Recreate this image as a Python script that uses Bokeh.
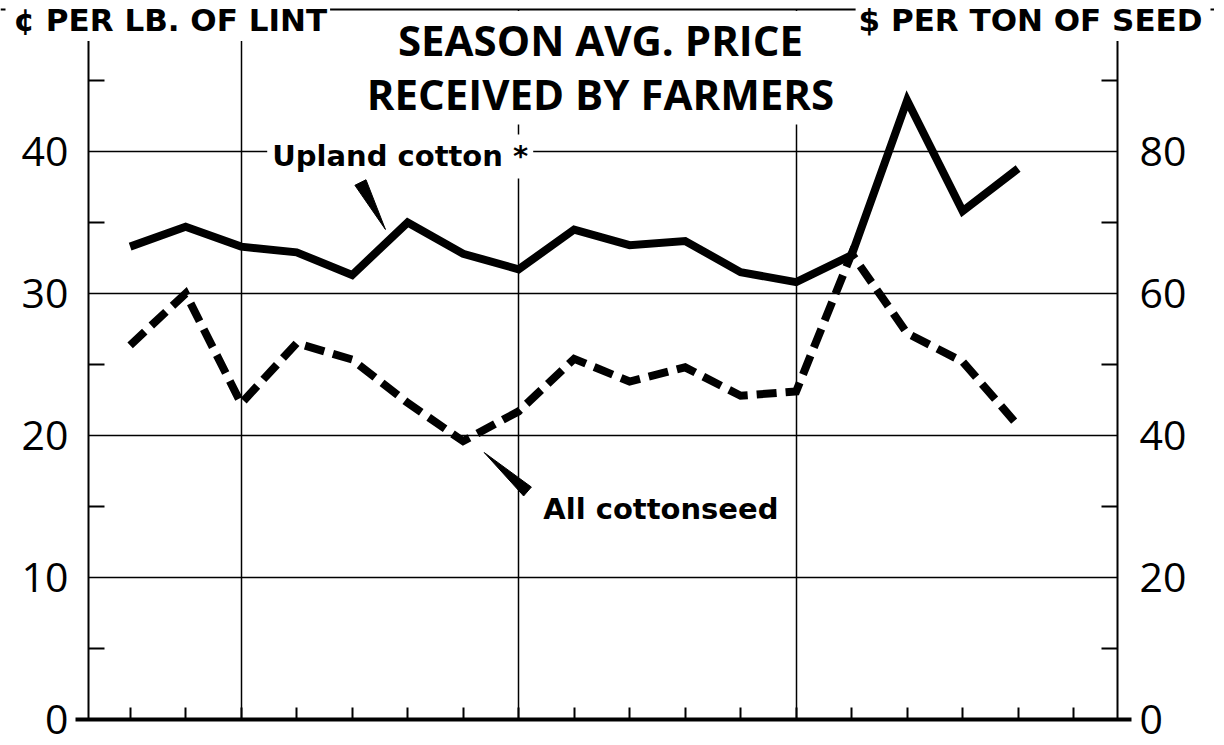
from bokeh.plotting import figure
from bokeh.models import Range1d, LinearAxis, FixedTicker, Label, Span
from bokeh.embed import file_html
from bokeh.resources import INLINE

# ---- data ----
years = list(range(1948, 1965))
upland_cents = [33.3, 34.7, 33.3, 32.9, 31.3, 35.0, 32.8, 31.7, 34.5, 33.4,
                33.7, 31.5, 30.8, 32.7, 43.6, 35.8, 38.8]
seed_dollars = [52.7, 60.0, 44.5, 53.0, 50.7, 44.6, 39.2, 43.4, 50.8, 47.6,
                49.6, 45.6, 46.2, 65.6, 54.4, 50.4, 41.4]

left_ticks = [0, 10, 20, 30, 40]
left_minor = [5, 15, 25, 35, 45]
right_ticks = [0, 20, 40, 60, 80]
right_minor = [10, 30, 50, 70, 90]
year_ticks = list(range(1948, 1966))
grid_years = [1950, 1955, 1960]

title_lines = ["SEASON AVG. PRICE", "RECEIVED BY FARMERS"]
left_title = "¢ PER LB. OF LINT"
right_title = "$ PER TON OF SEED"
upland_label = "Upland cotton *"
seed_label = "All cottonseed"

# ---- chart geometry (data coords) ----
X0, X1 = 1947.25, 1965.79      # where the left / right value axes stand
Y_TOP = 50                     # top rule of the chart (left scale)
PX_X = 55.5                    # pixels per year
PX_Y = 14.2                    # pixels per cent
W, H = 1214, 745
ZERO_PX = 719                  # canvas row of the zero line
LEFT_PX = 88                   # canvas column of the left axis

upland_ptr_x = [1952.05, 1952.25, 1952.60]
upland_ptr_y = [37.62, 38.01, 34.51]
seed_ptr_x = [1954.38, 1955.09, 1955.23]
seed_ptr_y = [18.80, 15.74, 16.37]

NUM_FONT = "Open Sans"
BOLD_FONT = "DejaVu Sans"

xs = X0 - LEFT_PX / PX_X
ys = -(H - ZERO_PX) / PX_Y
p = figure(width=W, height=H, output_backend="svg", toolbar_location=None,
           x_range=Range1d(xs, xs + W / PX_X),
           y_range=Range1d(ys, ys + H / PX_Y),
           min_border=0, min_border_left=0, min_border_right=0,
           min_border_top=0, min_border_bottom=0)
p.outline_line_color = None
p.background_fill_color = "white"
p.border_fill_color = "white"
p.extra_y_ranges = {"seed": Range1d(2 * ys, 2 * (ys + H / PX_Y))}
p.xgrid.visible = False
p.ygrid.visible = False

frame_w = round((X1 - X0) * PX_X)
frame_h = round(Y_TOP * PX_Y)

# left axis; its long major ticks are the horizontal grid lines
ya = p.yaxis[0]
ya.fixed_location = X0
ya.bounds = (0, Y_TOP)
ya.ticker = FixedTicker(ticks=left_ticks, minor_ticks=left_minor)
ya.major_tick_in = frame_w
ya.major_tick_out = 0
ya.major_tick_line_width = 1.5
ya.minor_tick_in = 16
ya.minor_tick_out = 0
ya.minor_tick_line_width = 2
ya.axis_line_width = 2
ya.major_label_standoff = 20
ya.major_label_text_font = NUM_FONT
ya.major_label_text_font_size = "41px"
ya.major_label_text_color = "black"

# right axis ($ per ton)
ra = LinearAxis(y_range_name="seed", fixed_location=X1,
                ticker=FixedTicker(ticks=right_ticks, minor_ticks=right_minor))
ra.bounds = (0, 2 * Y_TOP)
ra.major_tick_in = 0
ra.major_tick_out = 0
ra.minor_tick_in = 16
ra.minor_tick_out = 0
ra.minor_tick_line_width = 2
ra.axis_line_width = 2
ra.major_label_standoff = 22
ra.major_label_text_font = NUM_FONT
ra.major_label_text_font_size = "41px"
ra.major_label_text_color = "black"
p.add_layout(ra, "right")

# bottom axis; year ticks, long major ticks are the vertical grid lines
xa = p.xaxis[0]
xa.fixed_location = 0
xa.bounds = (X0 - 13 / PX_X, X1 + 14 / PX_X)
xa.ticker = FixedTicker(ticks=grid_years, minor_ticks=year_ticks)
xa.major_tick_in = frame_h
xa.major_tick_out = 0
xa.major_tick_line_width = 1.5
xa.minor_tick_in = 12
xa.minor_tick_out = 0
xa.minor_tick_line_width = 2
xa.axis_line_width = 4
xa.major_label_overrides = {y: "" for y in grid_years}
xa.major_label_standoff = 0

# top rule of the chart (hidden behind the captions at both ends)
p.add_layout(Span(location=Y_TOP, dimension="width", line_color="black", line_width=2))

# data lines
p.line(years, upland_cents, line_color="black", line_width=8, line_join="miter")
p.line(years, seed_dollars, y_range_name="seed", line_color="black", line_width=8,
       line_dash="20 9", line_join="miter")

# pointers
p.patch(upland_ptr_x, upland_ptr_y, color="black")
p.patch(seed_ptr_x, seed_ptr_y, color="black")

def make_label(text, x, y, size, font, align="left", pad=4):
    return Label(x=x, y=y, text=text, text_font=font, text_font_size=size,
                 text_font_style="bold", text_color="black", text_align=align,
                 text_baseline="alphabetic", background_fill_color="white",
                 padding=pad)

cap_y = (ZERO_PX - 21) / PX_Y
p.add_layout(make_label(left_title, xs + 5 / PX_X, cap_y, "31px", BOLD_FONT,
                        pad=dict(left=8, right=3, top=0, bottom=3)))
p.add_layout(make_label(right_title, xs + 1210 / PX_X, cap_y, "31px", BOLD_FONT,
                        align="right", pad=dict(left=3, right=8, top=0, bottom=3)))
p.add_layout(make_label(title_lines[0], 1956.475, 47.61, "42px", "Open Sans",
                        align="center", pad=dict(left=8, right=8, top=0, bottom=8)))
p.add_layout(make_label(title_lines[1], 1956.475, 44.01, "42px", "Open Sans",
                        align="center", pad=dict(left=8, right=8, top=0, bottom=3)))
p.add_layout(make_label(upland_label, 1950.47, 39.65, "29px", BOLD_FONT, pad=5))
p.add_layout(make_label(seed_label, 1955.39, 14.85, "29px", BOLD_FONT, pad=3))

open("out.html", "w").write(file_html(p, INLINE))
